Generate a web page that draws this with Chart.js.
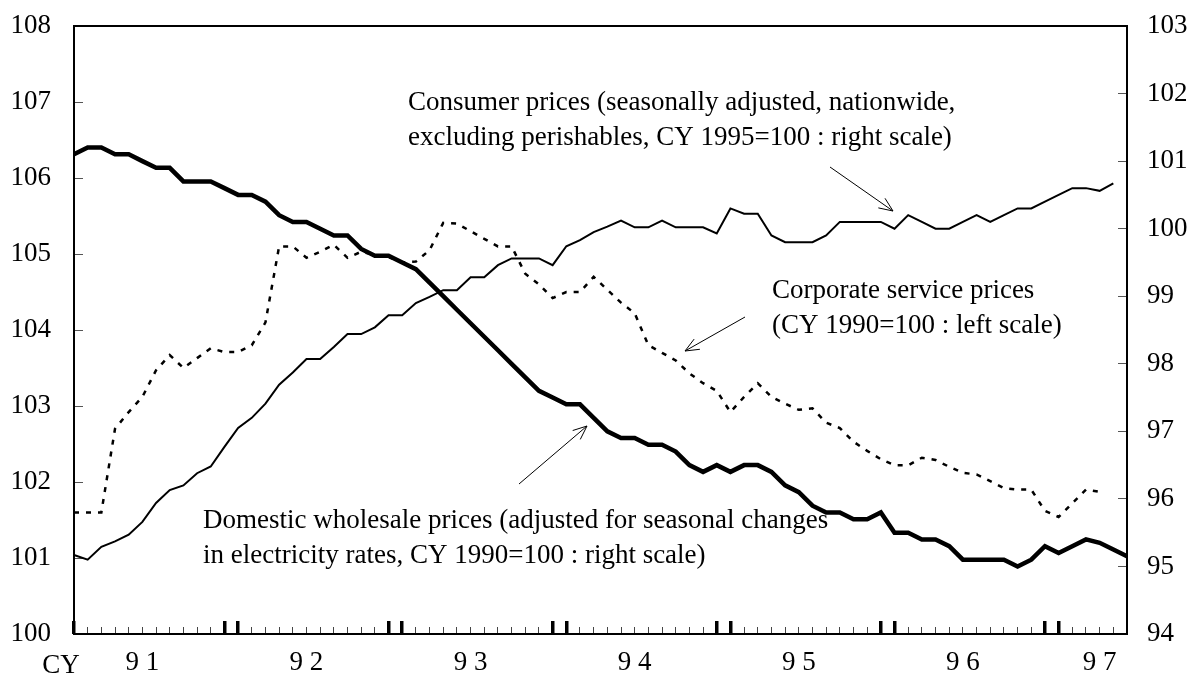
<!DOCTYPE html>
<html><head><meta charset="utf-8">
<script src="https://cdn.jsdelivr.net/npm/chart.js@4"></script>
<style>html,body{margin:0;padding:0;background:#fff}#wrap{width:1196px;height:689px;position:relative}canvas{display:block}</style>
</head><body><div id="wrap"><canvas id="c" width="1196" height="689" style="width:1196px;height:689px"></canvas></div>
<script>
// Monthly categories, Jan 1991 - Jun 1997
const months = [
 '1991-01','1991-02','1991-03','1991-04','1991-05','1991-06','1991-07','1991-08','1991-09','1991-10','1991-11','1991-12',
 '1992-01','1992-02','1992-03','1992-04','1992-05','1992-06','1992-07','1992-08','1992-09','1992-10','1992-11','1992-12',
 '1993-01','1993-02','1993-03','1993-04','1993-05','1993-06','1993-07','1993-08','1993-09','1993-10','1993-11','1993-12',
 '1994-01','1994-02','1994-03','1994-04','1994-05','1994-06','1994-07','1994-08','1994-09','1994-10','1994-11','1994-12',
 '1995-01','1995-02','1995-03','1995-04','1995-05','1995-06','1995-07','1995-08','1995-09','1995-10','1995-11','1995-12',
 '1996-01','1996-02','1996-03','1996-04','1996-05','1996-06','1996-07','1996-08','1996-09','1996-10','1996-11','1996-12',
 '1997-01','1997-02','1997-03','1997-04','1997-05','1997-06'];

// Domestic wholesale prices (right scale)
const domesticWholesale = [
 101.1,101.2,101.2,101.1,101.1,101.0,100.9,100.9,100.7,100.7,100.7,100.6,
 100.5,100.5,100.4,100.2,100.1,100.1,100.0,99.9,99.9,99.7,99.6,99.6,
 99.5,99.4,99.2,99.0,98.8,98.6,98.4,98.2,98.0,97.8,97.6,97.5,
 97.4,97.4,97.2,97.0,96.9,96.9,96.8,96.8,96.7,96.5,96.4,96.5,
 96.4,96.5,96.5,96.4,96.2,96.1,95.9,95.8,95.8,95.7,95.7,95.8,
 95.5,95.5,95.4,95.4,95.3,95.1,95.1,95.1,95.1,95.0,95.1,95.3,
 95.2,95.3,95.4,95.35,95.25,95.15];

// Consumer prices (right scale)
const consumerPrices = [
 95.17,95.1,95.29,95.37,95.47,95.66,95.94,96.13,96.2,96.38,96.48,96.77,
 97.05,97.2,97.41,97.69,97.87,98.07,98.07,98.25,98.44,98.44,98.54,98.72,
 98.72,98.9,98.99,99.09,99.09,99.28,99.28,99.46,99.56,99.56,99.56,99.46,
 99.74,99.83,99.95,100.03,100.12,100.02,100.02,100.12,100.02,100.02,100.02,99.93,
 100.3,100.22,100.22,99.9,99.8,99.8,99.8,99.9,100.1,100.1,100.1,100.1,
 100.0,100.2,100.1,100.0,100.0,100.1,100.2,100.1,100.2,100.3,100.3,100.4,
 100.5,100.6,100.6,100.56,100.67,null];

// Corporate service prices (left scale)
const corporateService = [
 101.6,101.6,101.6,102.7,102.92,103.12,103.47,103.67,103.5,103.63,103.76,103.71,
 103.71,103.8,104.1,105.1,105.1,104.95,105.03,105.12,104.95,105.03,104.99,104.96,
 104.89,104.9,105.05,105.41,105.4,105.3,105.2,105.1,105.1,104.74,104.6,104.42,
 104.5,104.5,104.7,104.53,104.36,104.22,103.8,103.7,103.6,103.43,103.3,103.2,
 102.92,103.12,103.3,103.12,103.03,102.95,102.97,102.78,102.71,102.53,102.41,102.3,
 102.22,102.22,102.32,102.29,102.2,102.12,102.1,102.01,101.92,101.9,101.9,101.62,
 101.54,101.72,101.9,101.87,null,null];

// Tick labels
const yearLabels = ['9 1','9 2','9 3','9 4','9 5','9 6','9 7'];
const yearLabelIndex = [5,17,29,41,53,65,75];
const yearBreakIndex = [0,11,12,23,24,35,36,47,48,59,60,71,72];

const FONT = 'Liberation Serif, Times New Roman, serif';
const FS = 27;

const notes = [
  {x:408, y:110, lines:['Consumer prices (seasonally adjusted, nationwide,','excluding perishables, CY 1995=100 : right scale)']},
  {x:772, y:298, lines:['Corporate service prices','(CY 1990=100 : left scale)']},
  {x:203, y:528, lines:['Domestic wholesale prices (adjusted for seasonal changes','in electricity rates, CY 1990=100 : right scale)']},
  {x:61, y:673, lines:['CY'], align:'center'}
];
const arrows = [
  {from:[830,167], to:[893,211]},
  {from:[745,317], to:[685,351]},
  {from:[519,484], to:[587,426]}
];

const annot = {
  id:'annot',
  afterDraw(chart){
    const ctx = chart.ctx, a = chart.chartArea;
    ctx.save();
    ctx.strokeStyle = '#000'; ctx.lineWidth = 2;
    ctx.strokeRect(a.left, a.top, a.right - a.left, a.bottom - a.top);
    ctx.fillStyle = '#000';
    ctx.font = FS + 'px ' + FONT;
    ctx.textBaseline = 'alphabetic';
    notes.forEach(n => {
      ctx.textAlign = n.align || 'left';
      n.lines.forEach((l, i) => ctx.fillText(l, n.x, n.y + i * 35));
    });
    ctx.lineWidth = 1;
    arrows.forEach(ar => {
      const [x1,y1] = ar.from, [x2,y2] = ar.to;
      ctx.beginPath(); ctx.moveTo(x1,y1); ctx.lineTo(x2,y2); ctx.stroke();
      const ang = Math.atan2(y2-y1, x2-x1), L = 15, w = 0.4;
      ctx.beginPath();
      ctx.moveTo(x2 - L*Math.cos(ang - w), y2 - L*Math.sin(ang - w));
      ctx.lineTo(x2, y2);
      ctx.lineTo(x2 - L*Math.cos(ang + w), y2 - L*Math.sin(ang + w));
      ctx.stroke();
    });
    ctx.restore();
  }
};

const noPad = s => { s.paddingTop = 0; s.paddingBottom = 0; s.paddingLeft = 0; s.paddingRight = 0; };

new Chart(document.getElementById('c'), {
  type:'line',
  data:{
    labels: months,
    datasets:[
      {label:'Domestic wholesale prices', data: domesticWholesale, yAxisID:'yR', xAxisID:'x',
       borderColor:'#000', borderWidth:4.5, pointRadius:0, tension:0, order:0, borderJoinStyle:'miter'},
      {label:'Consumer prices', data: consumerPrices, yAxisID:'yR', xAxisID:'x',
       borderColor:'#000', borderWidth:2, pointRadius:0, tension:0, order:1},
      {label:'Corporate service prices', data: corporateService, yAxisID:'yL', xAxisID:'x',
       borderColor:'#000', borderWidth:2.5, borderDash:[5,7], pointRadius:0, tension:0, order:2}
    ]
  },
  options:{
    responsive:false, maintainAspectRatio:false, animation:false, devicePixelRatio:1,
    layout:{padding:{top:26,left:0,right:0,bottom:0}},
    plugins:{legend:{display:false}, tooltip:{enabled:false}},
    scales:{
      x:{
        type:'category', position:'bottom', offset:false, weight:1,
        grid:{display:true, drawOnChartArea:false, drawTicks:true, tickLength:-7, color:'#444', lineWidth:1, offset:false},
        border:{display:false},
        ticks:{autoSkip:false, maxRotation:0, minRotation:0, padding:20, color:'#000', font:{family:FONT, size:FS},
          callback:(v, i) => { const k = yearLabelIndex.indexOf(i); return k >= 0 ? yearLabels[k] : ''; }},
        afterFit:s => { s.height = 55; noPad(s); }
      },
      xYear:{
        type:'category', position:'bottom', offset:false, weight:0,
        grid:{display:true, drawOnChartArea:false, drawTicks:true, tickLength:-13, color:'#000', lineWidth:3.5, offset:false},
        border:{display:false},
        ticks:{display:false, autoSkip:false},
        afterBuildTicks:s => { s.ticks = yearBreakIndex.map(v => ({value:v})); },
        afterFit:s => { s.height = 0; noPad(s); }
      },
      yL:{
        type:'linear', position:'left', min:100, max:108,
        grid:{drawOnChartArea:false, drawTicks:true, tickLength:-9, color:'#555', lineWidth:1},
        border:{display:false},
        ticks:{stepSize:1, padding:32, color:'#000', font:{family:FONT, size:FS}},
        afterFit:s => { s.width = 74; noPad(s); }
      },
      yR:{
        type:'linear', position:'right', min:94, max:103,
        grid:{drawOnChartArea:false, drawTicks:true, tickLength:-9, color:'#555', lineWidth:1},
        border:{display:false},
        ticks:{stepSize:1, padding:29, color:'#000', font:{family:FONT, size:FS}},
        afterFit:s => { s.width = 69; noPad(s); }
      }
    }
  },
  plugins:[annot]
});
</script></body></html>
